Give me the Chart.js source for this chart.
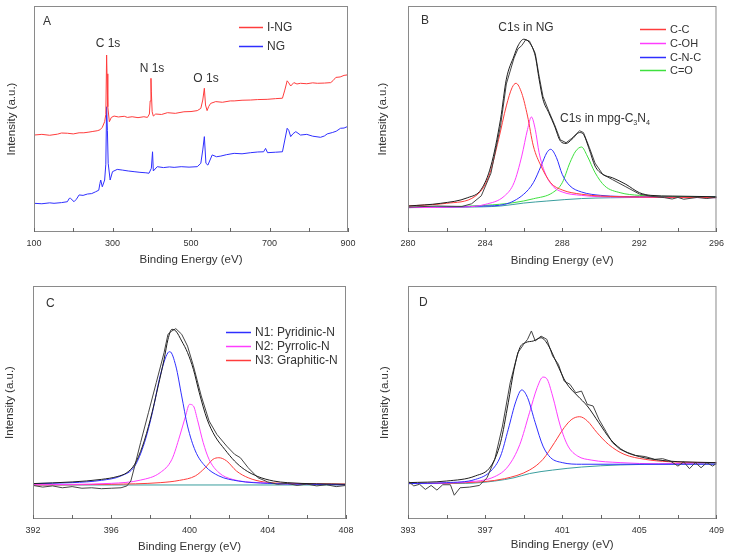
<!DOCTYPE html>
<html>
<head>
<meta charset="utf-8">
<script src="https://cdn.jsdelivr.net/npm/chart.js@4.4.0/dist/chart.umd.min.js"></script>
<style>
  html, body { margin: 0; padding: 0; background: #fff; }
  #wrap { position: relative; width: 730px; height: 559px; }
  canvas { position: absolute; }
</style>
</head>
<body>
<div id="wrap">
  <canvas id="chartA" width="365" height="280" style="left:0;top:0"></canvas>
  <canvas id="chartB" width="365" height="280" style="left:365px;top:0"></canvas>
  <canvas id="chartC" width="365" height="279" style="left:0;top:280px"></canvas>
  <canvas id="chartD" width="365" height="279" style="left:365px;top:280px"></canvas>
</div>
<script>
// ---- Panel A: survey spectra ----
const ingEnergy = [100,120,140,160,170,185,200,215,227,240,250,261,268,274,280,283,285,286,288,292,297,304,315,330,338,350,365,380,389,394,396,398,399,401,404,410,425,440,460,482,500,516,525,530,534,537,541,545,550,563,580,600,610,630,652,670,694,715,733,739,745,749,754,762,770,779,795,810,822,840,856,862,869,880,890,898,900];
const ingIntensity = [42.9,43.2,42.8,43.3,43.8,43.7,43.4,43.9,43.9,44.2,44.5,44.8,45.2,46.3,48.8,52.0,78.3,70.0,55.4,48.8,50.7,51.3,50.9,51.2,50.7,51.0,50.6,51.0,50.7,52.2,58.0,68.0,62.0,53.2,51.3,52.2,52.0,52.8,52.5,53.2,53.3,53.7,54.7,58.4,63.6,56.2,53.7,55.5,56.9,57.7,57.4,58.0,58.0,58.3,58.4,58.6,58.7,59.0,59.2,62.8,66.9,66.0,64.6,66.1,65.5,65.8,65.6,66.0,65.8,65.9,66.1,67.0,68.4,68.6,69.3,69.5,69.0];
const ngEnergy = [100,120,140,151,170,185,190,193,202,208,215,225,236,247,257,265,268,270,274,280,283,285,287,289,294,300,312,325,340,355,370,385,393,399,402,404,414,430,445,457,475,495,516,525,530,534,538,543,554,565,576,590,610,630,652,670,685,690,695,715,733,739,745,749,754,760,767,779,795,810,830,840,847,860,870,881,890,898,900];
const ngIntensity = [12.7,12.5,12.9,12.7,13.0,13.4,14.9,14.9,13.4,14.5,16.4,16.2,16.8,17.0,17.8,18.5,21.5,23.0,20.0,23.0,30.0,55.4,45.0,30.4,23.0,26.7,27.7,27.4,27.0,26.7,26.4,26.2,26.0,28.2,35.5,27.0,28.9,28.5,28.8,28.6,28.9,28.7,28.9,30.4,36.3,42.2,30.4,29.6,34.1,33.3,33.6,34.2,34.8,34.6,35.1,35.4,35.5,37.0,35.1,35.3,35.5,40.7,45.9,45.0,42.2,43.5,44.4,42.9,43.2,42.4,41.9,42.5,43.4,44.0,44.6,45.9,46.0,46.6,46.3];
const surveyTicks = [100, 300, 500, 700, 900];

// ---- Panel B: C1s ----
const c1sEnvX = [280,281.7,283.1,283.8,284.3,284.8,285.1,285.5,285.7,286.0,286.3,286.6,286.8,287.0,287.3,287.6,287.9,288.2,288.5,288.9,289.1,289.4,289.7,290.1,290.6,291.3,292.0,292.6,293.7,296];
const c1sEnvelope = [11.5,12.7,15.2,18.9,29.2,49.9,67.6,77.9,82.3,85.3,83.8,77.9,67.6,58.7,52.8,46.9,40.3,39.2,41.0,44.0,43.2,36.6,29.2,25.5,24.0,21.1,17.4,16.2,15.9,15.6];
const c1sRawX = [280,281.5,282.8,283.3,283.8,284.3,284.8,285.1,285.5,285.7,285.9,286.1,286.3,286.6,286.8,287.0,287.3,287.6,287.9,288.2,288.5,288.9,289.1,289.4,289.7,290.1,290.6,291.3,292.0,292.6,293.3,293.7,294.0,294.3,295.0,295.5,296];
const c1sRaw = [11.0,11.5,11.3,12.5,16.0,26.0,47.0,65.5,77.0,81.0,82.5,85.0,84.5,79.0,69.0,60.0,53.5,47.5,40.8,39.5,41.5,44.8,44.0,37.5,30.5,25.5,23.2,20.0,16.8,15.8,15.2,14.6,15.3,14.5,15.3,14.8,15.4];
const c1sBgX = [280,283,284.8,286,287.2,289,292,296];
const c1sBackground = [10.8,11.0,11.5,12.8,13.7,14.8,15.3,15.6];
const ccX = [280,282,283.5,284.2,284.7,285.1,285.4,285.6,285.9,286.2,286.5,286.9,287.4,288.0,289,290,292,296];
const ccY = [11.5,12.7,15.9,24.8,41.0,55.8,63.9,65.8,61.4,51.3,38.1,29.2,21.8,18.6,16.7,15.9,15.5,15.2];
const cohX = [280,283,284,285,285.5,285.9,286.2,286.4,286.6,286.8,287.1,287.5,288,289,290,296];
const cohY = [10.8,11.1,12.2,15.9,21.8,33.6,45.4,50.9,45.4,35.1,26.3,20.4,17.7,16.2,15.6,15.2];
const cncX = [280,284,285,286,286.5,286.9,287.2,287.4,287.7,288.0,288.4,289,290,292,296];
const cncY = [10.8,11.5,12.2,16.7,21.8,29.2,35.1,36.6,32.9,25.5,20.4,17.7,16.2,15.6,15.2];
const coX = [280,284,285.5,286.5,287.5,288.0,288.4,288.7,289.0,289.3,289.7,290.2,291,292,294,296];
const coY = [10.8,11.8,13.0,14.7,17.4,21.8,30.7,35.8,37.6,33.6,26.3,20.4,17.4,16.2,15.6,15.2];
const c1sTicks = [280, 284, 288, 292, 296];

// ---- Panel C: N1s (NG) ----
const nEnvX = [392,394,395.5,396.3,396.8,397.2,397.6,398.0,398.4,398.7,398.9,399.1,399.3,399.6,399.9,400.2,400.5,400.9,401.3,401.8,402.3,402.8,403.5,404.3,405,408];
const nEnvelope = [15.2,15.9,17.0,18.2,19.9,23.5,31.3,42.8,57.1,68.5,77.1,81.4,80.7,76.4,71.4,64.2,54.2,42.8,35.6,29.9,24.9,21.3,18.2,16.3,15.6,14.9];
const nRawX = [392,392.5,393,393.5,394,394.5,395,395.5,396,396.5,396.8,397.0,397.2,397.5,397.9,398.3,398.7,398.9,399.1,399.3,399.6,399.9,400.2,400.6,401.0,401.4,401.9,402.3,402.6,403.0,403.5,404,404.5,405,405.5,406,406.5,407,407.5,408];
const nRaw = [14.4,13.7,14.2,13.4,13.9,13.2,13.4,13.0,13.2,13.4,14.2,16.3,22.7,32.8,45.6,58.5,71.4,79.3,80.7,81.7,79.3,74.2,65.7,52.8,42.1,36.3,31.3,27.8,26.3,22.0,17.7,15.9,14.9,15.3,14.4,15.0,14.2,14.7,13.9,14.4];
const nBgX = [392, 408];
const nBackground = [14.6, 14.6];
const n1X = [392,394,395.5,396.5,397.2,397.7,398.1,398.5,398.9,399.0,399.3,399.6,399.9,400.3,400.8,401.5,402.5,404,408];
const n1Y = [15.2,15.6,16.6,18.5,22.7,32.8,45.6,61.4,71.4,71.8,65.7,52.8,39.9,29.2,22.7,18.5,16.3,15.3,14.7];
const n2X = [392,396,397.5,398.5,399.1,399.5,399.8,400.0,400.2,400.4,400.7,401.0,401.5,402.2,403.5,408];
const n2Y = [14.7,15.3,16.7,19.9,25.6,35.6,44.2,49.2,48.5,42.8,32.8,25.6,19.9,17.0,15.6,14.7];
const n3X = [392,396,398.5,399.5,400.3,400.8,401.2,401.5,401.9,402.4,403,403.8,405,408];
const n3Y = [14.6,14.9,15.6,16.6,18.5,22.0,25.6,26.3,24.9,20.6,17.7,15.9,15.3,15.0];
const ngTicks = [392, 396, 400, 404, 408];

// ---- Panel D: N1s (I-NG) ----
const dEnvX = [393,395,396.5,397.3,397.8,398.2,398.5,398.8,399.1,399.5,399.9,400.3,400.7,401.2,401.8,402.3,402.9,403.5,404.2,405,406,407,409];
const dEnvelope = [15.6,16.3,18.5,22.7,32.8,49.9,64.2,73.5,75.7,76.4,77.8,74.2,67.1,58.5,52.8,48.5,41.3,34.2,29.2,26.8,25.3,24.6,24.2];
const dRawX = [393,393.3,393.6,393.9,394.2,394.5,394.8,395.2,395.4,395.7,396.2,396.7,397.1,397.5,397.9,398.3,398.7,399.0,399.2,399.4,399.6,399.9,400.2,400.5,400.8,401.1,401.4,401.7,402.0,402.3,402.6,402.9,403.3,403.6,404.0,404.4,404.8,405.3,405.8,406.2,406.6,407.0,407.3,407.6,407.9,408.2,408.5,408.8,409];
const dRaw = [16.3,14.2,14.9,12.7,14.4,12.4,14.7,14.7,10.2,13.4,13.7,14.4,17.7,25.6,39.9,58.5,71.4,75.0,77.1,80.7,76.4,78.5,77.1,70.0,66.4,59.2,57.8,54.2,54.9,49.2,48.5,42.8,37.1,32.8,29.9,28.5,27.3,26.8,25.6,25.9,24.9,22.7,24.5,21.6,24.2,22.0,24.2,22.7,23.9];
const dBgX = [393,396,397.5,398.5,399.3,400.5,402,404,409];
const dBackground = [15.2,15.3,16.3,17.7,19.5,21.0,22.3,23.2,23.7];
const d1X = [393,395,396.5,397.3,397.8,398.2,398.6,398.9,399.2,399.6,400.0,400.4,401,402,409];
const d1Y = [15.2,15.6,17.0,20.6,27.0,38.5,50.6,55.4,52.1,41.3,31.3,26.3,24.2,23.5,23.5];
const d2X = [393,396,397.5,398.2,398.8,399.3,399.7,400.0,400.2,400.5,400.9,401.3,401.8,402.5,404,406,409];
const d2Y = [15.2,15.9,18.2,22.7,32.0,45.6,56.4,60.9,60.2,52.8,39.9,31.3,27.0,25.3,24.2,23.7,24.2];
const d3X = [393,396,398,399.3,400.0,400.6,401.1,401.5,401.9,402.3,402.8,403.4,404.2,405.3,406.5,409];
const d3Y = [15.2,15.6,17.3,21.0,25.6,32.8,39.2,42.8,43.9,42.1,37.1,32.0,27.8,25.6,24.6,24.2];
const ingTicks = [393, 397, 401, 405, 409];

const FONT = '"Liberation Sans", Arial, sans-serif';
const RED = '#ff3c3c', BLUE = '#2f2fff', MAGENTA = '#ff3cff', GREEN = '#3ee03e', TEAL = '#3a9e9e';

function pts(xs, ys) {
  return xs.map((x, i) => ({ x: x, y: ys[i] }));
}

function line(label, xs, ys, color, smooth) {
  return {
    label: label,
    data: pts(xs, ys),
    borderColor: color,
    borderWidth: 1,
    pointRadius: 0,
    tension: 0,
    cubicInterpolationMode: smooth ? 'monotone' : 'default'
  };
}

// frame round the plot and short inward ticks on the x axis
const frameTicks = {
  id: 'frameTicks',
  afterDatasetsDraw(chart) {
    const { ctx, chartArea: a, scales } = chart;
    ctx.save();
    ctx.strokeStyle = '#8a8a8a';
    ctx.lineWidth = 1;
    ctx.strokeRect(a.left + 0.5, a.top + 0.5, a.right - a.left - 1, a.bottom - a.top - 1);
    ctx.strokeStyle = '#666';
    scales.x.ticks.forEach(t => {
      const px = Math.round(scales.x.getPixelForValue(t.value)) + 0.5;
      ctx.beginPath();
      ctx.moveTo(px, a.bottom);
      ctx.lineTo(px, a.bottom - 4);
      ctx.stroke();
    });
    ctx.restore();
  }
};

// panel letters, peak notes and the legend
const notes = {
  id: 'notes',
  afterDraw(chart, args, opts) {
    const ctx = chart.ctx;
    ctx.save();
    ctx.fillStyle = '#333';
    ctx.textBaseline = 'middle';
    (opts.texts || []).forEach(t => {
      const size = t.size || 12;
      ctx.textAlign = t.align || 'left';
      if (t.parts) {
        let x = t.x;
        ctx.textAlign = 'left';
        t.parts.forEach(p => {
          const s = p.sub ? size * 0.6 : size;
          ctx.font = s + 'px ' + FONT;
          ctx.fillText(p.t, x, t.y + (p.sub ? 4 : 0));
          x += ctx.measureText(p.t).width;
        });
      } else {
        ctx.font = size + 'px ' + FONT;
        ctx.fillText(t.text, t.x, t.y);
      }
    });
    const L = opts.legend;
    if (L) {
      ctx.font = L.size + 'px ' + FONT;
      ctx.textAlign = 'left';
      L.items.forEach((idx, i) => {
        const ds = chart.data.datasets[idx];
        const y = Math.round(L.y + i * L.gap) + 0.5;
        ctx.strokeStyle = ds.borderColor;
        ctx.lineWidth = 1.5;
        ctx.beginPath();
        ctx.moveTo(L.x, y);
        ctx.lineTo(L.x + L.len, y);
        ctx.stroke();
        ctx.fillText(ds.label, L.x + L.len + 4, y);
      });
    }
    ctx.restore();
  }
};

function makePanel(id, p) {
  const labelled = v => p.labels.some(l => Math.abs(l - v) < 1e-6);
  return new Chart(document.getElementById(id), {
    type: 'line',
    data: { datasets: p.datasets },
    options: {
      responsive: false,
      animation: false,
      layout: { padding: { left: 0, top: 6, right: p.right, bottom: 0 } },
      plugins: {
        legend: { display: false },
        tooltip: { enabled: false },
        notes: p.notes
      },
      scales: {
        x: {
          type: 'linear',
          min: p.min,
          max: p.max,
          grid: { display: false, drawTicks: false },
          border: { display: false },
          ticks: {
            stepSize: p.step,
            autoSkip: false,
            maxRotation: 0,
            padding: 6,
            color: '#333',
            font: { family: FONT, size: 9 },
            callback: v => (labelled(v) ? String(v) : '')
          },
          title: {
            display: true,
            text: 'Binding Energy (eV)',
            color: '#333',
            font: { family: FONT, size: 11.5 },
            padding: { top: 0, bottom: p.xTitlePad }
          },
          afterFit: s => { s.height = p.xHeight; }
        },
        y: {
          min: 0,
          max: 100,
          grid: { display: false, drawTicks: false },
          border: { display: false },
          ticks: { display: false },
          title: {
            display: true,
            text: 'Intensity (a.u.)',
            color: '#333',
            font: { family: FONT, size: 11.5 },
            padding: { top: p.yTitlePad, bottom: 0 }
          },
          afterFit: s => { s.width = p.yWidth; }
        }
      }
    },
    plugins: [frameTicks, notes]
  });
}

makePanel('chartA', {
  min: 100, max: 900, step: 100, labels: surveyTicks,
  right: 17, yWidth: 34, xHeight: 48, xTitlePad: 13.1, yTitlePad: 5.1,
  datasets: [
    line('I-NG', ingEnergy, ingIntensity, RED, false),
    line('NG', ngEnergy, ngIntensity, BLUE, false)
  ],
  notes: {
    texts: [
      { text: 'A', x: 43, y: 22 },
      { text: 'C 1s', x: 108, y: 44, align: 'center' },
      { text: 'N 1s', x: 152, y: 69, align: 'center' },
      { text: 'O 1s', x: 206, y: 79, align: 'center' }
    ],
    legend: { x: 239, y: 27, gap: 19, len: 24, size: 12, items: [0, 1] }
  }
});

makePanel('chartB', {
  min: 280, max: 296, step: 2, labels: c1sTicks,
  right: 12, yWidth: 43, xHeight: 48, xTitlePad: 12.1, yTitlePad: 11.1,
  datasets: [
    line('Fit', c1sEnvX, c1sEnvelope, '#1e1e1e', true),
    line('Raw', c1sRawX, c1sRaw, '#444', false),
    line('C-C', ccX, ccY, RED, true),
    line('C-OH', cohX, cohY, MAGENTA, true),
    line('C-N-C', cncX, cncY, BLUE, true),
    line('C=O', coX, coY, GREEN, true),
    line('Background', c1sBgX, c1sBackground, TEAL, true)
  ],
  notes: {
    texts: [
      { text: 'B', x: 56, y: 21 },
      { text: 'C1s in NG', x: 161, y: 28, align: 'center' },
      { x: 195, y: 119, parts: [{ t: 'C1s in mpg-C' }, { t: '3', sub: true }, { t: 'N' }, { t: '4', sub: true }] }
    ],
    legend: { x: 275, y: 29, gap: 13.8, len: 26, size: 11, items: [2, 3, 4, 5] }
  }
});

makePanel('chartC', {
  min: 392, max: 408, step: 2, labels: ngTicks,
  right: 19, yWidth: 33, xHeight: 40, xTitlePad: 5.1, yTitlePad: 3.1,
  datasets: [
    line('Fit', nEnvX, nEnvelope, '#1e1e1e', true),
    line('Raw', nRawX, nRaw, '#444', false),
    line('N1: Pyridinic-N', n1X, n1Y, BLUE, true),
    line('N2: Pyrrolic-N', n2X, n2Y, MAGENTA, true),
    line('N3: Graphitic-N', n3X, n3Y, RED, true),
    line('Background', nBgX, nBackground, TEAL, false)
  ],
  notes: {
    texts: [{ text: 'C', x: 46, y: 24 }],
    legend: { x: 226, y: 52, gap: 14, len: 25, size: 12, items: [2, 3, 4] }
  }
});

makePanel('chartD', {
  min: 393, max: 409, step: 2, labels: ingTicks,
  right: 11, yWidth: 43, xHeight: 40, xTitlePad: 7.1, yTitlePad: 13.1,
  datasets: [
    line('Fit', dEnvX, dEnvelope, '#1e1e1e', true),
    line('Raw', dRawX, dRaw, '#444', false),
    line('N1: Pyridinic-N', d1X, d1Y, BLUE, true),
    line('N2: Pyrrolic-N', d2X, d2Y, MAGENTA, true),
    line('N3: Graphitic-N', d3X, d3Y, RED, true),
    line('Background', dBgX, dBackground, TEAL, true)
  ],
  notes: {
    texts: [{ text: 'D', x: 54, y: 23 }],
    legend: { x: 595, y: 57, gap: 14, len: 26, size: 12, items: [4, 3, 2] }
  }
});
</script>
</body>
</html>
